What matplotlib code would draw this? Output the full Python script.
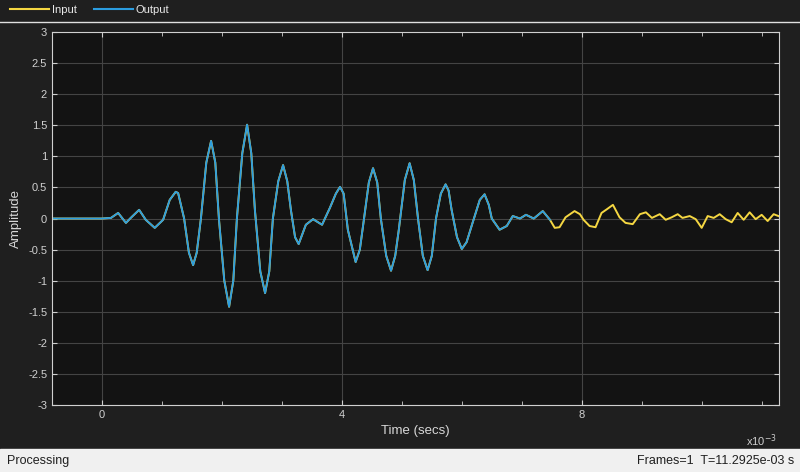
import matplotlib
matplotlib.use("Agg")
import matplotlib.pyplot as plt
from matplotlib.lines import Line2D

plt.rcParams["font.family"] = ["Liberation Sans", "DejaVu Sans"]

# time in ms, amplitude
t_in = [-0.83, 0.0, 0.15, 0.27, 0.4, 0.48, 0.62, 0.73, 0.88, 1.02, 1.13, 1.23, 1.27, 1.37,
        1.45, 1.52, 1.58, 1.65, 1.74, 1.82, 1.89, 1.95, 2.04, 2.12, 2.19, 2.25, 2.34, 2.42,
        2.49, 2.55, 2.64, 2.72, 2.79, 2.85, 2.94, 3.02, 3.09, 3.15, 3.22, 3.28, 3.4, 3.52,
        3.67, 3.8, 3.9, 3.97, 4.03, 4.1, 4.23, 4.3, 4.37, 4.45, 4.52, 4.59, 4.65, 4.74,
        4.82, 4.89, 4.95, 5.05, 5.13, 5.2, 5.27, 5.35, 5.43, 5.5, 5.57, 5.65, 5.73, 5.78,
        5.83, 5.92, 6.0, 6.08, 6.17, 6.3, 6.38, 6.45, 6.5, 6.63, 6.75, 6.85, 6.97, 7.07,
        7.2, 7.35, 7.47, 7.55, 7.63, 7.73, 7.88, 7.97, 8.03, 8.13, 8.23, 8.33, 8.42, 8.52,
        8.63, 8.73, 8.85, 8.97, 9.07, 9.17, 9.3, 9.4, 9.5, 9.6, 9.68, 9.8, 9.9, 10.0, 10.1,
        10.2, 10.3, 10.4, 10.5, 10.6, 10.7, 10.8, 10.9, 11.0, 11.1, 11.2, 11.28]
a_in = [0.0, 0.0, 0.01, 0.09, -0.07, 0.01, 0.14, -0.02, -0.15, -0.02, 0.30, 0.43, 0.41, 0.0,
        -0.55, -0.75, -0.55, 0.0, 0.9, 1.25, 0.9, 0.0, -1.0, -1.42, -1.0, 0.0, 1.05, 1.51,
        1.05, 0.14, -0.85, -1.2, -0.85, 0.0, 0.6, 0.86, 0.6, 0.14, -0.3, -0.41, -0.1, -0.01,
        -0.1, 0.17, 0.4, 0.51, 0.4, -0.18, -0.7, -0.5, 0.0, 0.58, 0.81, 0.58, 0.0, -0.6,
        -0.84, -0.6, -0.18, 0.62, 0.89, 0.62, 0.0, -0.6, -0.83, -0.6, 0.0, 0.4, 0.55, 0.45,
        0.14, -0.3, -0.49, -0.38, -0.1, 0.3, 0.39, 0.22, 0.0, -0.18, -0.12, 0.04, 0.0, 0.06,
        0.0, 0.12, -0.02, -0.15, -0.14, 0.02, 0.12, 0.07, -0.02, -0.12, -0.14, 0.09, 0.15,
        0.22, 0.02, -0.07, -0.09, 0.07, 0.1, 0.01, 0.07, -0.02, 0.02, 0.07, 0.01, 0.04, -0.01,
        -0.15, 0.04, 0.01, 0.07, -0.01, -0.06, 0.09, -0.02, 0.10, -0.01, 0.06, -0.04, 0.07,
        0.04]
n_out = 87  # output ends around t = 7.45 ms
t_out = t_in[:n_out]
a_out = a_in[:n_out]

fig = plt.figure(figsize=(8, 4.72), dpi=100, facecolor="#1f1f1f")
ax = fig.add_axes([0.065, 0.142, 0.909, 0.79])
ax.set_facecolor("#131313")
ax.plot(t_in, a_in, color="#f5d742", lw=1.4)
ax.plot(t_out, a_out, color="#2b9de0", lw=1.3)

ax.set_xlim(-0.833, 11.2925)
ax.set_ylim(-3, 3)
ax.set_xticks([0, 4, 8])
ax.set_xticks(range(0, 12), minor=True)
ax.set_yticks([i * 0.5 for i in range(-6, 7)])
ax.set_yticklabels(["-3", "-2.5", "-2", "-1.5", "-1", "-0.5", "0", "0.5", "1", "1.5", "2", "2.5", "3"])
ax.grid(True, color="#444444", lw=0.8)
ax.tick_params(which="both", direction="in", colors="#d0d0d0", labelsize=8, top=True, right=True)
ax.tick_params(which="minor", length=3)
for s in ax.spines.values():
    s.set_color("#d0d0d0")
ax.set_xlabel("Time (secs)", color="#d8d8d8", fontsize=9.5)
ax.set_ylabel("Amplitude", color="#d8d8d8", fontsize=9.5)
fig.text(0.932, 0.055, "x10$^{-3}$", color="#d0d0d0", fontsize=8)

# legend bar
fig.add_artist(Line2D([0, 1], [0.953, 0.953], color="#e0e0e0", lw=1))
fig.legend([Line2D([], [], color="#f5d742"), Line2D([], [], color="#2b9de0")],
           ["Input", "Output"], loc="upper left", bbox_to_anchor=(0.0, 1.01),
           ncol=2, frameon=False, fontsize=8, labelcolor="#e8e8e8",
           handlelength=3.5, handletextpad=0.3, columnspacing=1.5)

# status bar
fig.patches.append(plt.Rectangle((0, 0), 1, 0.049, transform=fig.transFigure, color="#f0f0f0"))
fig.text(0.009, 0.024, "Processing", fontsize=9, va="center", color="#202020")
fig.text(0.993, 0.024, "Frames=1  T=11.2925e-03 s", fontsize=9, va="center", ha="right", color="#202020")

fig.savefig("out.png", dpi=100, facecolor=fig.get_facecolor())
